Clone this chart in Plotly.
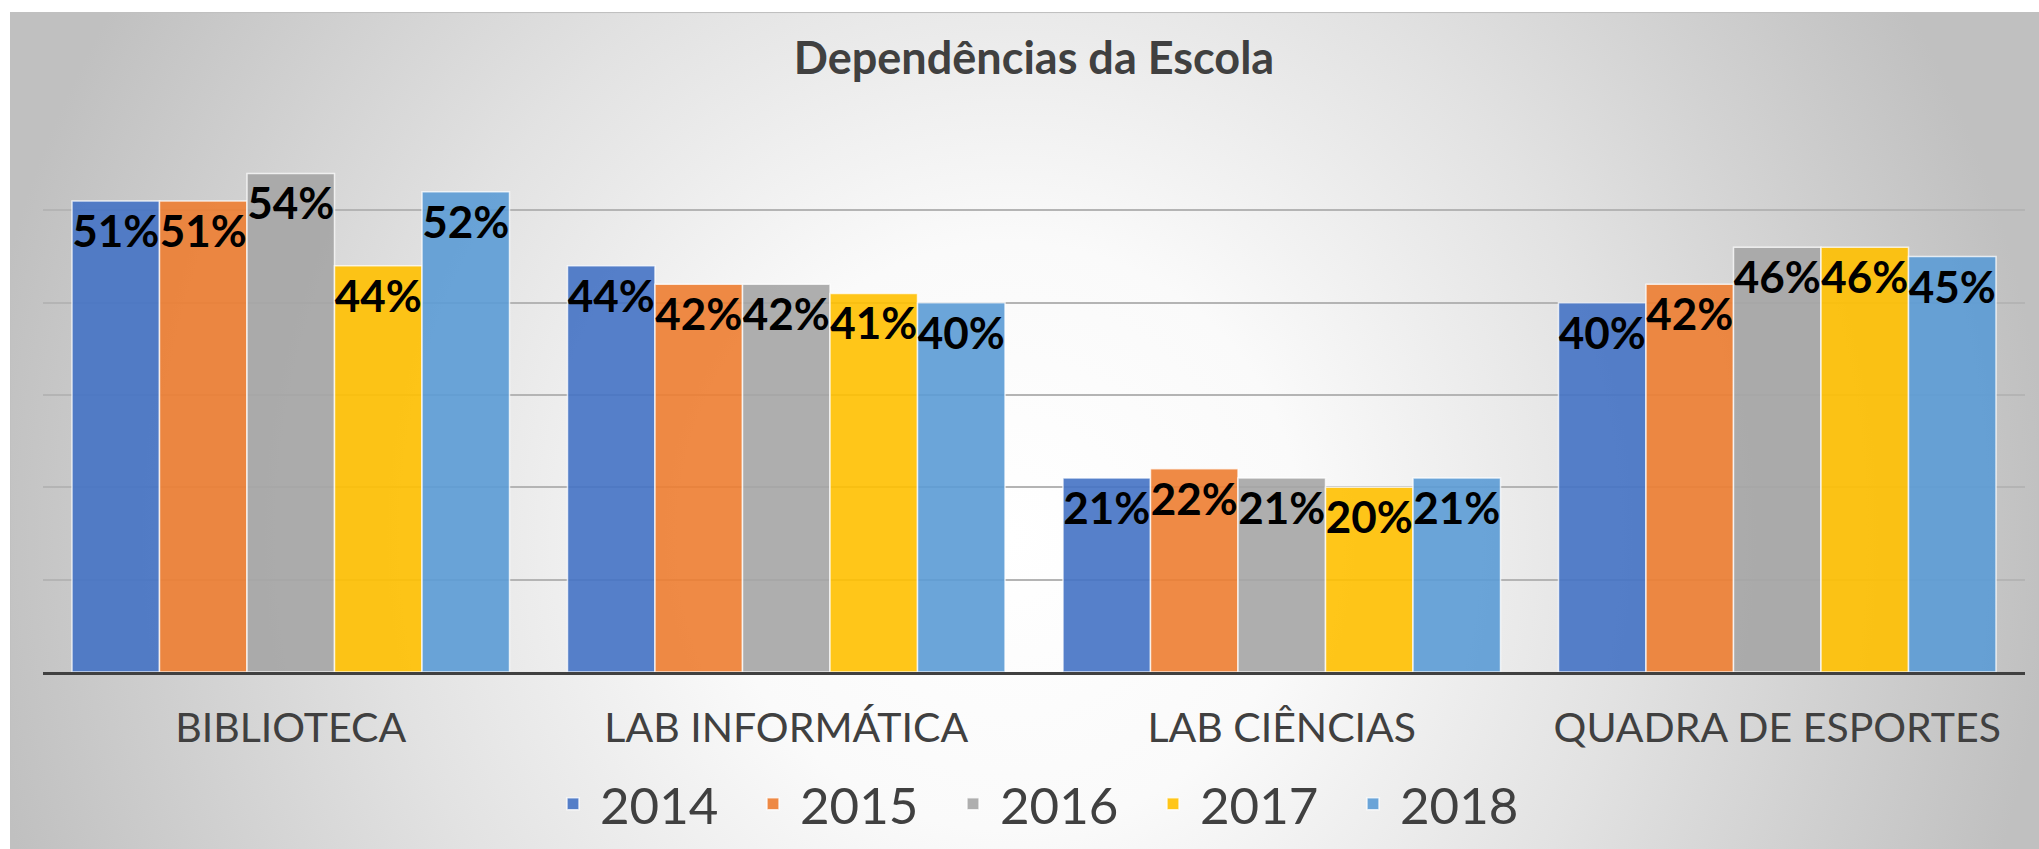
import base64
import plotly.graph_objects as go

categories = ["BIBLIOTECA", "LAB INFORMÁTICA", "LAB CIÊNCIAS", "QUADRA DE ESPORTES"]
years = ["2014", "2015", "2016", "2017", "2018"]
v2014 = [51, 44, 21, 40]
v2015 = [51, 42, 22, 42]
v2016 = [54, 42, 21, 46]
v2017 = [44, 41, 20, 46]
v2018 = [52, 40, 21, 45]
series = [v2014, v2015, v2016, v2017, v2018]
colors = ["rgba(68,114,196,0.9)", "rgba(237,125,49,0.9)", "rgba(165,165,165,0.9)",
          "rgba(255,192,0,0.9)", "rgba(91,155,213,0.9)"]

W, H = 2039, 849
ml, mr, mt, mb = 43, 14, 117, 183
pw, ph = W - ml - mr, H - mt - mb
STANDOFF = 18

FONT = "Lato"
TXT = "#404040"

fig = go.Figure()
for yr, vals, col in zip(years, series, colors):
    fig.add_trace(go.Bar(
        name=yr, x=categories, y=vals,
        marker=dict(color=col, line=dict(color="rgba(255,255,255,0.75)", width=1.5)),
        text=[f"{v}%" for v in vals],
        textposition="inside", insidetextanchor="end",
        textfont=dict(family=FONT, size=44, color="#000000", weight="bold"),
        textangle=0, cliponaxis=False,
    ))

# background gradient of the chart area
bx0, by0 = 10, 12
bw, bh = W - bx0, H - by0
svg = (f'<svg xmlns="http://www.w3.org/2000/svg" width="{bw}" height="{bh}" viewBox="0 0 {bw} {bh}" '
       f'preserveAspectRatio="none"><defs><radialGradient id="g" gradientUnits="userSpaceOnUse" '
       f'cx="1000" cy="520" r="1040"><stop offset="0" stop-color="#ffffff"/>'
       f'<stop offset="0.28" stop-color="#fafafa"/><stop offset="0.6" stop-color="#e2e2e2"/>'
       f'<stop offset="1" stop-color="#c0c0c0"/></radialGradient></defs>'
       f'<rect width="{bw}" height="{bh}" fill="url(#g)" stroke="#c0c0c0" stroke-width="2"/></svg>')
src = "data:image/svg+xml;base64," + base64.b64encode(svg.encode()).decode()

fig.update_layout(
    width=W, height=H,
    margin=dict(l=ml, r=mr, t=mt, b=mb, pad=0),
    paper_bgcolor="#ffffff", plot_bgcolor="rgba(0,0,0,0)",
    barmode="group", bargap=0.117, bargroupgap=0,
    title=dict(text="<b>Dependências da Escola</b>", x=1034 / W, xref="container", xanchor="center",
               y=1 - 58 / H, yref="container", yanchor="middle",
               font=dict(family=FONT, size=45, color=TXT)),
    uniformtext=dict(minsize=44, mode="show"),
    showlegend=True,
    legend=dict(orientation="h", x=(1046 - ml) / pw, xanchor="center", xref="paper",
                y=-(797 - (H - mb)) / ph, yanchor="middle",
                font=dict(family=FONT, size=51, color=TXT), itemwidth=44,
                bgcolor="rgba(255,255,255,0)", entrywidth=141, entrywidthmode="pixels",
                traceorder="normal"),
    images=[dict(source=src, xref="paper", yref="paper",
                 x=(bx0 - ml) / pw, y=(H - mb - by0) / ph,
                 sizex=bw / pw, sizey=bh / ph, sizing="stretch",
                 xanchor="left", yanchor="top", layer="below")],
    xaxis=dict(showline=True, linecolor="#404040", linewidth=3, ticks="",
               tickfont=dict(family=FONT, size=41, color=TXT), ticklabelstandoff=STANDOFF,
               showgrid=False),
    yaxis=dict(range=[0, 60], dtick=10, showticklabels=False, showgrid=True,
               gridcolor="#b4b4b4", gridwidth=1.5, zeroline=False, showline=False),
)

# remove the page margins and let the figure fill the captured page height
page_js = (
    "var s=document.createElement('style');"
    "s.textContent='html,body{margin:0!important;padding:0!important;overflow:hidden!important;}';"
    "document.head.appendChild(s);"
    "var gd=document.getElementById('{plot_id}');"
    f"var vh=Math.round((window.innerHeight||{H})*1.01);"
    f"var k=vh/{H};"
    "if(Math.abs(k-1)>0.002){"
    "gd.style.height=vh+'px';"
    f"Plotly.relayout(gd,{{'height':vh,'margin.t':Math.round({mt}*k),'margin.b':Math.round({mb}*k),"
    f"'xaxis.ticklabelstandoff':Math.round({STANDOFF}*k)}});"
    "}"
)

fig.write_html("out.html", config={"displayModeBar": False}, post_script=page_js)
